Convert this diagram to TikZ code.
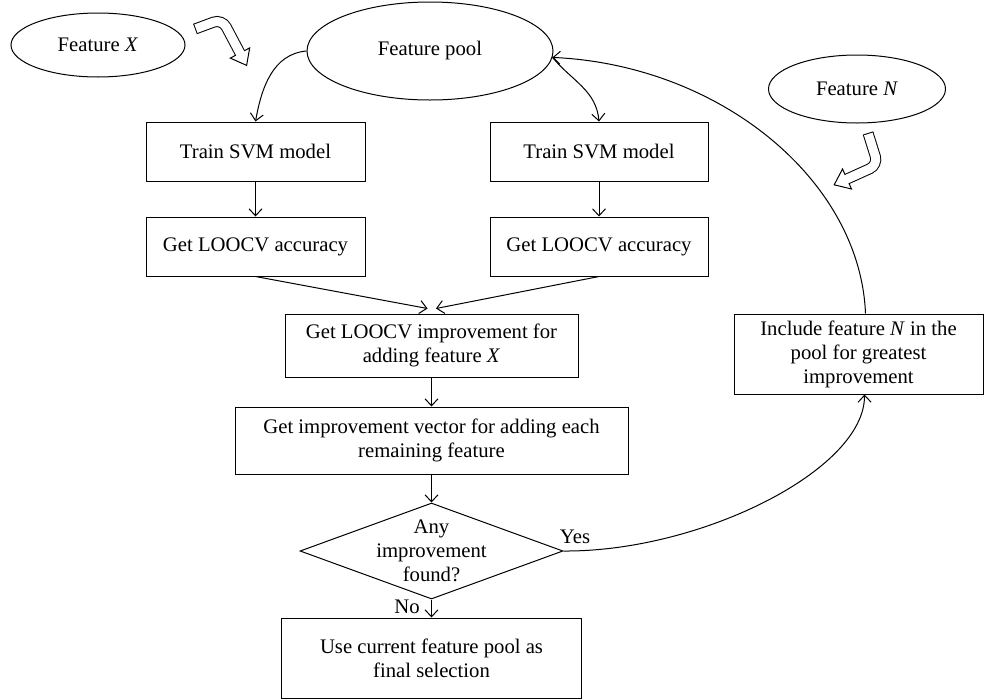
\documentclass[tikz,border=0pt]{standalone}
\usepackage{fontspec}
\setmainfont{Liberation Serif}
\usetikzlibrary{arrows.meta,shapes.geometric,calc}
\begin{document}
\begin{tikzpicture}[x=1pt,y=1pt,
  every node/.style={font=\fontsize{20.7pt}{24pt}\selectfont},
  box/.style={draw, rectangle, line width=1pt, align=center, inner sep=2pt},
  oval/.style={draw, ellipse, line width=1pt, inner sep=0pt},
  arr/.style={line width=1pt, -{Straight Barb[length=7pt,width=13pt,line width=1pt]}},
  hol/.style={line width=11pt, line cap=butt, rounded corners=9pt},
  holw/.style={white, line width=9pt, line cap=butt, rounded corners=9pt, shorten <=1pt, shorten >=-1pt},
  head/.style={fill=white, draw=black, line width=1pt, line join=miter}
]
\fill[white] (0,0) rectangle (984,-699);
\useasboundingbox (0,0) rectangle (984,-699);

% ellipses
\node[oval, minimum width=174pt, minimum height=64pt] (fx) at (98,-45) {Feature \textit{X}};
\node[oval, minimum width=246pt, minimum height=98pt] (pool) at (430,-51) {Feature pool};
\node[oval, minimum width=177pt, minimum height=68pt] (fn) at (857,-89) {Feature \textit{N}};

% boxes
\node[box, minimum width=219pt, minimum height=59pt] (t1) at (255.5,-151.5) {Train SVM model};
\node[box, minimum width=219pt, minimum height=59pt] (a1) at (255.5,-246.5) {Get LOOCV accuracy};
\node[box, minimum width=218pt, minimum height=59pt] (t2) at (599,-151.5) {Train SVM model};
\node[box, minimum width=218pt, minimum height=59pt] (a2) at (599,-246.5) {Get LOOCV accuracy};
\node[box, minimum width=293pt, minimum height=63pt] (imp) at (431.5,-345.5) {Get LOOCV improvement for\\adding feature \textit{X}};
\node[box, minimum width=393pt, minimum height=67pt] (vec) at (431.5,-440.5) {Get improvement vector for adding each\\remaining feature};
\node[diamond, draw, line width=1pt, minimum width=263pt, minimum height=96pt, inner sep=0pt] (dia) at (431.5,-551) {};
\node[align=center] (diat) at (dia.center) {Any\\improvement\\found?};
\node[box, minimum width=300pt, minimum height=80pt] (fin) at (431.5,-658) {Use current feature pool as\\final selection};
\node[box, minimum width=249pt, minimum height=80pt] (inc) at (858.5,-354) {Include feature \textit{N} in the\\pool for greatest\\improvement};

% labels
\node (no) at (407,-607) {No};
\node (yes) at (575,-537) {Yes};

% connectors
\draw[arr] (pool.west) to[out=185,in=80] (t1.north);
\draw[arr] (pool.-3) to[out=-50,in=95] (t2.north);
\draw[arr] (t1) -- (a1);
\draw[arr] (t2) -- (a2);
\coordinate (m1) at (427.5,-308.5);
\coordinate (m2) at (436,-308.5);
\draw[arr] (a1.south) -- (m1);
\draw[arr] (a2.south) -- (m2);
\draw[arr] (imp) -- (vec);
\draw[arr] (vec.south) -- (dia.north);
\draw[arr] (dia.south) -- (fin.north);
\coordinate (incb) at ($(inc.south)+(6,0)$);
\coordinate (inct) at ($(inc.north)+(7,0)$);
\draw[arr] (dia.east) .. controls (700,-552) and (865,-470) .. (incb);
\draw[arr] (inct) .. controls (860,-180) and (720,-65) .. (pool.-3);

% hollow arrow from Feature X
\filldraw[head] (249.7,-47.9) -- (246.6,-65.4) -- (230.3,-58.1) -- cycle;
\draw[hol] (195,-29) -- (222,-19) -- (240,-53);
\draw[holw] (195,-29) -- (222,-19) -- (240,-53);

% hollow arrow from Feature N
\filldraw[head] (851.5,-189) -- (834.2,-184.8) -- (842.5,-169) -- cycle;
\draw[hol] (868,-133) -- (878,-165) -- (847,-179);
\draw[holw] (868,-133) -- (878,-165) -- (847,-179);
\end{tikzpicture}
\end{document}
